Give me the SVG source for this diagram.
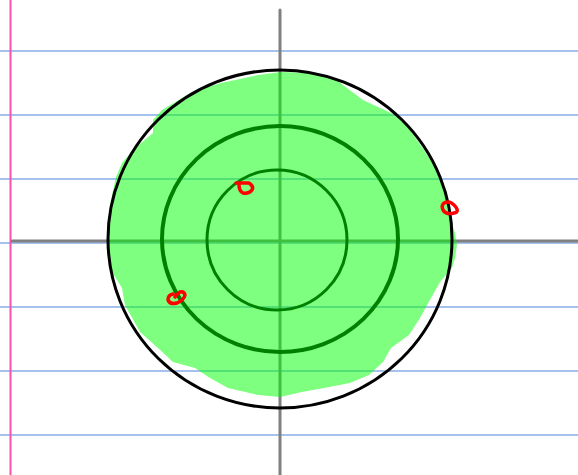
<svg xmlns="http://www.w3.org/2000/svg" width="578" height="475" viewBox="0 0 578 475">
<style>
.rule{stroke:#4a86dc;stroke-width:1.2;}
.axis{stroke:#808080;stroke-width:3;stroke-linecap:round;}
.ring{fill:none;stroke:#008000;}
.mark{fill:none;stroke:#ff0000;stroke-width:3.5;stroke-linecap:round;stroke-linejoin:round;}
</style>
<rect width="578" height="475" fill="#ffffff"/>
<g id="paper">
<line class="rule" x1="0" y1="51" x2="578" y2="51"/>
<line class="rule" x1="0" y1="115" x2="578" y2="115"/>
<line class="rule" x1="0" y1="179" x2="578" y2="179"/>
<line class="rule" x1="0" y1="243" x2="578" y2="243"/>
<line class="rule" x1="0" y1="307" x2="578" y2="307"/>
<line class="rule" x1="0" y1="371" x2="578" y2="371"/>
<line class="rule" x1="0" y1="435" x2="578" y2="435"/>
<line x1="10.5" y1="0" x2="10.5" y2="475" stroke="#ff4fae" stroke-width="2"/>
</g>
<g id="axes">
<line class="axis" x1="12" y1="241" x2="580" y2="241"/>
<line class="axis" x1="280" y1="10" x2="280" y2="478"/>
</g>
<g id="blob">
<path fill="#00ff00" fill-opacity="0.5" d="M281,72 L313,73 L335,78 L343,85 L363,100 L391,113 L405,123 L424,150 L439,173 L446,193 L450,217 L455,233 L457,245 L455,258 L452,268 L440,282 L431,298 L420,318 L409,335 L391,348 L383,362 L369,375 L350,383 L324,388 L302,392 L280,397 L258,395 L228,388 L210,378 L195,368 L173,362 L158,348 L140,332 L125,305 L122,288 L112,272 L109,255 L107,240 L108,220 L111,200 L116,177 L122,163 L133,150 L147,138 L153,133 L153,120 L162,110 L192,92 L221,83 L258,75 Z"/>
</g>
<g id="outer-circle">
<ellipse cx="280" cy="239" rx="172" ry="169" fill="none" stroke="#000000" stroke-width="3"/>
</g>
<g id="middle-ring">
<ellipse class="ring" cx="280" cy="239" rx="118" ry="113" stroke-width="4"/>
</g>
<g id="inner-ring">
<ellipse class="ring" cx="277" cy="240" rx="70" ry="70" stroke-width="3"/>
</g>
<g id="marks">
<path class="mark" d="M236,183 L249,183 Q254,186 252,190 Q249,194 243,193 Q239,191 239,185"/>
<path class="mark" d="M173,294 Q168,295 168,300 Q170,305 177,303 Q184,300 185,295 Q184,291 180,292 Q177,294 175,297"/>
<path class="mark" d="M444,203 Q450,200 455,206 Q460,212 454,213 Q446,215 443,210 Q441,206 444,203"/>
</g>
</svg>
